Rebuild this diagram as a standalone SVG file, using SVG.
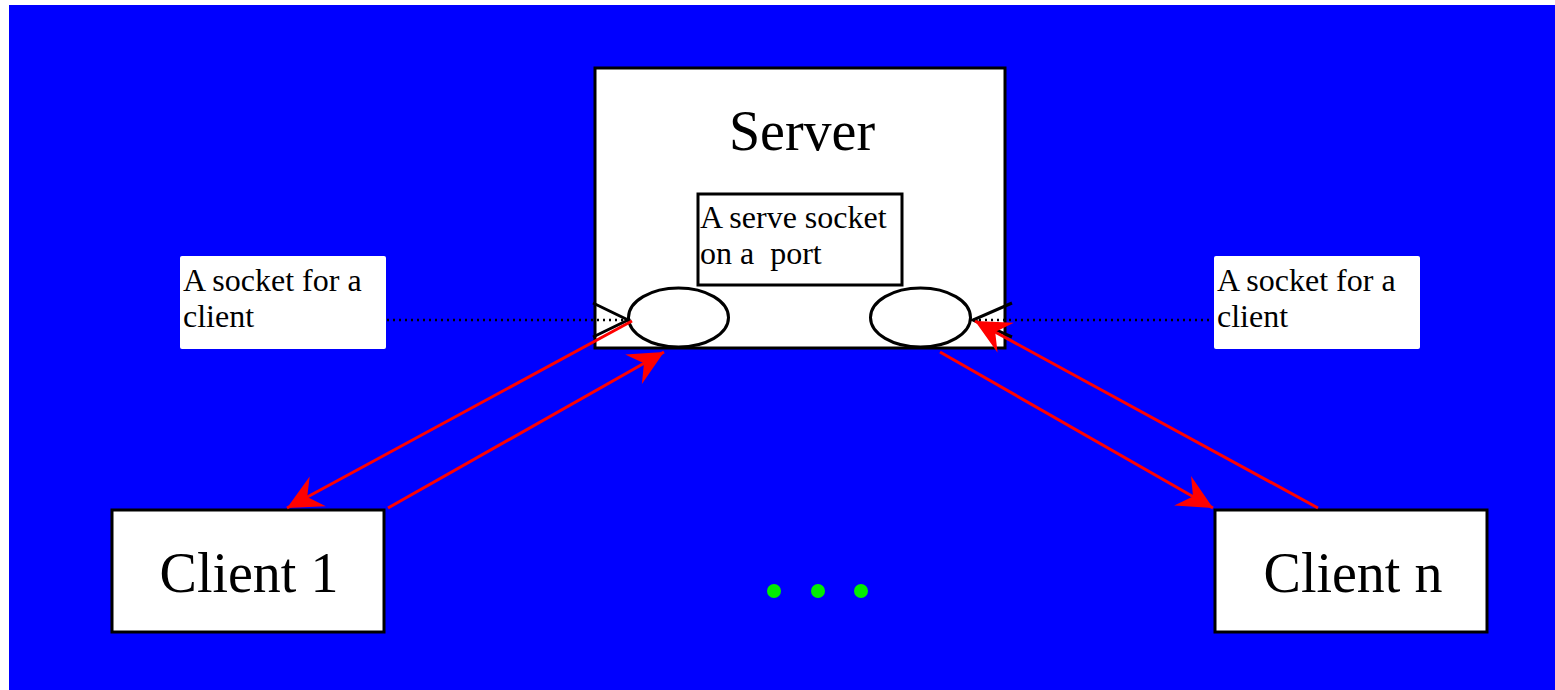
<svg xmlns="http://www.w3.org/2000/svg" width="1555" height="690" viewBox="0 0 1555 690">
  <style>
    .box { fill: #ffffff; stroke: #000000; stroke-width: 3; }
    .label { fill: #ffffff; }
    .sock { fill: #ffffff; stroke: #000000; stroke-width: 3; }
    .wedge { fill: none; stroke: #000000; stroke-width: 3; stroke-linejoin: miter; }
    .dots { stroke: #000000; stroke-width: 2.5; stroke-dasharray: 2 4; fill: none; }
    .flow { stroke: #ff0000; stroke-width: 3; fill: none; marker-end: url(#head); }
    .t { font-family: "Liberation Serif", "Times New Roman", serif; fill: #000000; }
    .big { font-size: 56px; }
    .small { font-size: 32px; }
    .more { fill: #00ee00; }
  </style>
  <defs>
    <marker id="head" markerUnits="userSpaceOnUse" viewBox="-36 -18 38 36" refX="0" refY="0" markerWidth="38" markerHeight="36" orient="auto">
      <path d="M0,0 L-35,-17 L-23,0 L-35,17 Z" fill="#ff0000"/>
    </marker>
  </defs>

  <!-- backdrop -->
  <rect x="0" y="0" width="1555" height="690" fill="#ffffff"/>
  <rect x="9" y="5" width="1546" height="685" fill="#0000ff"/>

  <!-- server with its listening socket -->
  <g id="server">
    <rect class="box" x="595" y="68" width="410" height="280"/>
    <text class="t big" x="802" y="150" text-anchor="middle">Server</text>
  </g>
  <g id="serve-socket">
    <rect class="box" x="698" y="194" width="204" height="91" stroke-width="2.5"/>
    <text class="t small" x="700" y="228">A serve socket</text>
    <text class="t small" x="700" y="264" xml:space="preserve">on a  port</text>
  </g>

  <!-- per-client sockets -->
  <g id="socket-left">
    <ellipse class="sock" cx="678.5" cy="317.5" rx="50" ry="29.5"/>
  </g>
  <g id="socket-right">
    <ellipse class="sock" cx="920.5" cy="317.5" rx="50" ry="29.5"/>
  </g>

  <!-- callout labels -->
  <g id="label-left">
    <rect class="label" x="180" y="256" width="206" height="93" rx="2"/>
    <text class="t small" x="183" y="291">A socket for a</text>
    <text class="t small" x="183" y="327">client</text>
  </g>
  <g id="label-right">
    <rect class="label" x="1214" y="256" width="206" height="93" rx="2"/>
    <text class="t small" x="1217" y="291">A socket for a</text>
    <text class="t small" x="1217" y="327">client</text>
  </g>

  <!-- clients -->
  <g id="client-1">
    <rect class="box" x="112" y="510" width="272" height="122"/>
    <text class="t big" x="249" y="592" text-anchor="middle">Client 1</text>
  </g>
  <g id="client-n">
    <rect class="box" x="1215" y="510" width="272" height="122"/>
    <text class="t big" x="1353" y="592" text-anchor="middle">Client n</text>
  </g>

  <!-- more clients -->
  <g id="ellipsis">
    <circle class="more" cx="774" cy="591" r="7"/>
    <circle class="more" cx="818" cy="591" r="7"/>
    <circle class="more" cx="861" cy="591" r="7"/>
  </g>

  <g id="connectors">
    <!-- callout pointers -->
    <line class="dots" x1="387" y1="320" x2="628" y2="320"/>
    <polyline class="wedge" points="593,303 628,320 593,337"/>
    <line class="dots" x1="973" y1="320" x2="1213" y2="320"/>
    <polyline class="wedge" points="1012,303 973,320 1012,337"/>
    <!-- traffic between clients and server sockets -->
    <line class="flow" x1="632" y1="321" x2="287" y2="508"/>
    <line class="flow" x1="388" y1="508" x2="664" y2="352"/>
    <line class="flow" x1="940" y1="352" x2="1213" y2="508"/>
    <line class="flow" x1="1318" y1="508" x2="975" y2="321"/>
  </g>
</svg>
